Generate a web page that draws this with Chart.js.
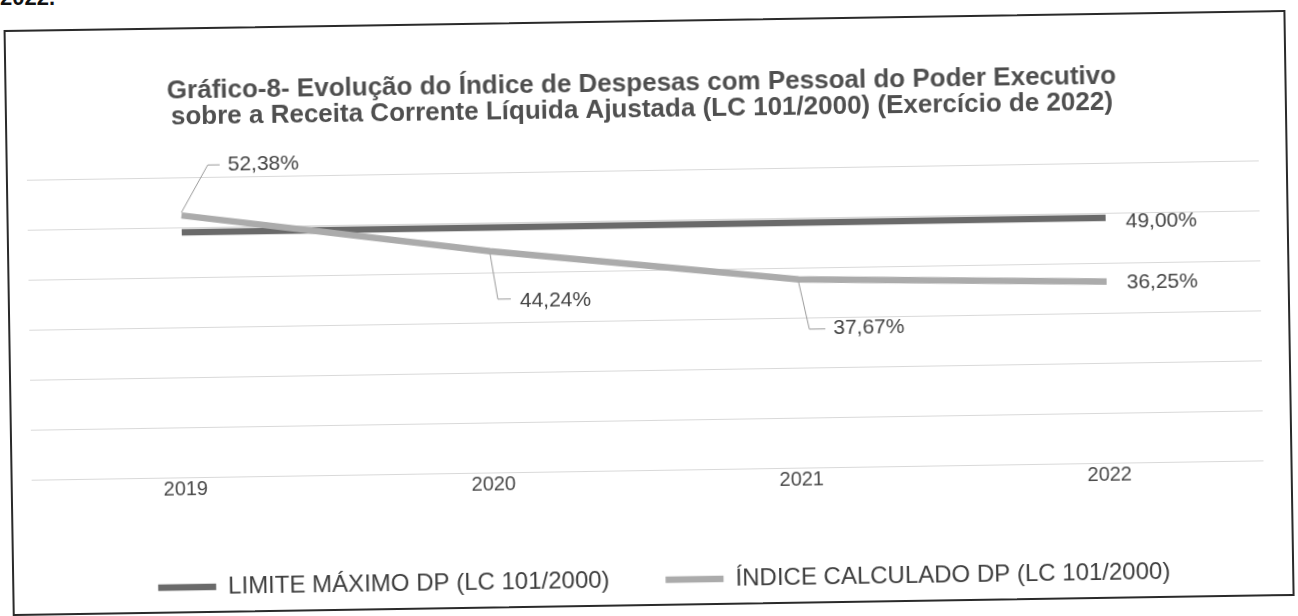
<!DOCTYPE html>
<html>
<head>
<meta charset="utf-8">
<script src="https://cdn.jsdelivr.net/npm/chart.js@4.4.1/dist/chart.umd.min.js"></script>
<style>
  html, body { margin: 0; padding: 0; background: #fff; overflow: hidden; }
  #page { position: relative; width: 1298px; height: 616px; }
  #doc { position: absolute; left: 0; top: -13px; font: bold 22px/22px "Liberation Sans", Arial, sans-serif; color: #111; }
  #wrap { position: absolute; left: 0; top: 0; width: 1298px; height: 616px; transform: rotate(-0.9deg); transform-origin: 649px 308px; }
  #frame { position: absolute; left: 8px; top: 20px; width: 1278px; height: 582px; border: 2px solid #2a2a2a; }
  canvas { position: absolute; left: 0; top: 0; }
</style>
</head>
<body>
<div id="page">
  <div id="doc">2022.</div>
  <div id="wrap">
    <div id="frame"></div>
    <canvas id="chart" width="1298" height="616"></canvas>
  </div>
</div>
<script>
// dados do gráfico
var anos = ["2019", "2020", "2021", "2022"];
var limiteMaximo = [49.00, 49.00, 49.00, 49.00];
var indiceCalculado = [52.38, 44.24, 37.67, 36.25];
var escalaY = { min: 0, max: 60, passo: 10 };
var titulo = [
  "Gráfico-8- Evolução do Índice de Despesas com Pessoal do Poder Executivo",
  "sobre a Receita Corrente Líquida Ajustada (LC 101/2000) (Exercício de 2022)"
];
var nomes = ["LIMITE MÁXIMO DP (LC 101/2000)", "ÍNDICE CALCULADO DP (LC 101/2000)"];

var fonte = '"Liberation Sans", Arial, sans-serif';

// posição dos rótulos em relação ao ponto (só estilo)
var rotulos = {
  0: [null, null, null, { dx: 20, dy: 4 }],
  1: [
    { dx: 47, dy: -50, guia: [[0, -3], [27, -50], [39, -50]] },
    { dx: 29, dy: 50, guia: [[0, 3], [7, 48], [20, 48]] },
    { dx: 34, dy: 50, guia: [[0, 3], [10, 50], [26, 50]] },
    { dx: 20, dy: 1 }
  ]
};

function fmt(v) {
  return v.toFixed(2).replace(".", ",") + "%";
}

var rotuloPlugin = {
  id: "rotuloPlugin",
  afterLayout: function (chart) {
    // legenda um pouco à direita, como no original
    chart.legend.left += 15;
    chart.legend.right += 15;
  },
  afterDatasetsDraw: function (chart) {
    var ctx = chart.ctx;
    ctx.save();
    chart.data.datasets.forEach(function (ds, di) {
      var meta = chart.getDatasetMeta(di);
      meta.data.forEach(function (pt, i) {
        var st = rotulos[di][i];
        if (!st) return;
        if (st.guia) {
          ctx.beginPath();
          st.guia.forEach(function (p, k) {
            if (k === 0) ctx.moveTo(pt.x + p[0], pt.y + p[1]);
            else ctx.lineTo(pt.x + p[0], pt.y + p[1]);
          });
          ctx.strokeStyle = "#9a9a9a";
          ctx.lineWidth = 1;
          ctx.stroke();
        }
        ctx.font = "21px " + fonte;
        ctx.fillStyle = "#444";
        ctx.textAlign = "left";
        ctx.textBaseline = "middle";
        ctx.fillText(fmt(ds.data[i]), pt.x + st.dx, pt.y + st.dy);
      });
    });
    ctx.restore();
  }
};

var ctx = document.getElementById("chart");
var grafico = new Chart(ctx, {
  type: "line",
  data: {
    labels: anos,
    datasets: [
      {
        label: nomes[0],
        data: limiteMaximo,
        borderColor: "#6a6a6a",
        backgroundColor: "#6a6a6a",
        borderWidth: 6.5,
        pointRadius: 0,
        tension: 0,
        order: 1
      },
      {
        label: nomes[1],
        data: indiceCalculado,
        borderColor: "#ababab",
        backgroundColor: "#ababab",
        borderWidth: 6.5,
        pointRadius: 0,
        tension: 0,
        order: 0
      }
    ]
  },
  options: {
    responsive: false,
    animation: false,
    devicePixelRatio: 1,
    layout: { padding: { left: 29, right: 37, top: 0, bottom: 14 } },
    plugins: {
      title: {
        display: true,
        text: titulo,
        color: "#4f4f4f",
        font: { family: fonte, size: 26, weight: "bold", lineHeight: 1.0 },
        padding: { top: 71, bottom: 47 }
      },
      legend: {
        position: "bottom",
        labels: {
          usePointStyle: true,
          pointStyle: "line",
          pointStyleWidth: 58,
          color: "#3d3d3d",
          font: { family: fonte, size: 24 },
          padding: 56,
          sort: function (a, b) { return a.datasetIndex - b.datasetIndex; }
        }
      },
      tooltip: { enabled: false }
    },
    scales: {
      x: {
        offset: true,
        grid: { display: false, drawTicks: false },
        border: { display: false },
        ticks: { color: "#4a4a4a", font: { family: fonte, size: 20 }, padding: 0 },
        afterFit: function (s) { s.height += 18; }
      },
      y: {
        min: escalaY.min,
        max: escalaY.max,
        ticks: { display: false, stepSize: escalaY.passo },
        grid: { color: "#d9d9d9", lineWidth: 1, drawTicks: false },
        border: { display: false }
      }
    }
  },
  plugins: [rotuloPlugin]
});
</script>
</body>
</html>
